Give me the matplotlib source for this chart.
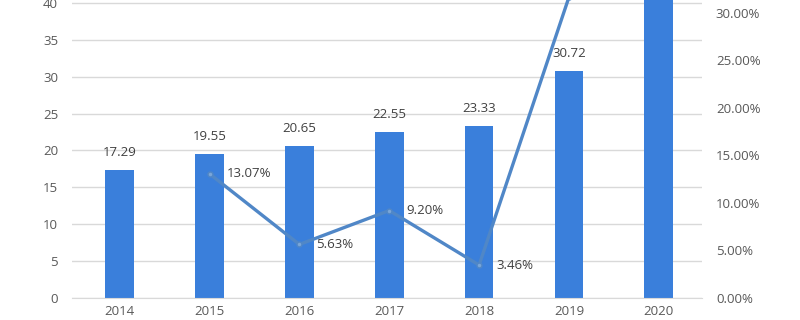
import matplotlib
matplotlib.use('Agg')
import matplotlib.pyplot as plt
from matplotlib.ticker import FuncFormatter, MultipleLocator

plt.rcParams['font.family'] = ['Open Sans', 'DejaVu Sans']

years  = ["2014", "2015", "2016", "2017", "2018", "2019", "2020"]
values = [17.29, 19.55, 20.65, 22.55, 23.33, 30.72, 41.50]
growth_years = ["2015", "2016", "2017", "2018", "2019", "2020"]
growth = [13.07, 5.63, 9.20, 3.46, 31.68, 35.09]   # percent

BAR_C  = "#3a7fdb"
LINE_C = "#5087c7"
TEXT_C = "#595959"
GRID_C = "#d9d9d9"

Y_MAX, Y2_MAX = 40.4, 31.37   # the picture is cropped at the top

fig = plt.figure(figsize=(8, 3.2), dpi=100)
ax = fig.add_axes([0.09, 0.069, 0.7875, 0.931])
ax2 = ax.twinx()

x = list(range(len(years)))
ax.bar(x, values, width=0.32, color=BAR_C, zorder=2)
for xi, v in zip(x, values):
    if v + 4 < Y_MAX:
        ax.text(xi, v + 1.5, f"{v:.2f}", ha="center", va="bottom",
                fontsize=9.5, color="#404040")

gx = [years.index(y) for y in growth_years]
ax2.plot(gx, growth, color=LINE_C, lw=2.4, marker="o", ms=3.5,
         mfc="#7aa6d8", mec=LINE_C, zorder=3)
for xi, g in zip(gx, growth):
    if g + 1.5 < Y2_MAX:
        ax2.text(xi + 0.19, g, f"{g:.2f}%", ha="left", va="center",
                 fontsize=9.5, color="#404040")

# ── axes / ticks ──────────────────────────────────────
ax.set_xlim(-0.53, 6.48)
ax.set_ylim(0, Y_MAX)
ax2.set_ylim(0, Y2_MAX)
ax.yaxis.set_major_locator(MultipleLocator(5))
ax2.yaxis.set_major_locator(MultipleLocator(5))
ax2.yaxis.set_major_formatter(FuncFormatter(lambda v, p: f"{v:.2f}%"))

ax.set_xticks(x)
ax.set_xticklabels(years)
ax.grid(axis="y", color=GRID_C, lw=1, zorder=0)
ax.set_axisbelow(True)

for a in (ax, ax2):
    for s in a.spines.values():
        s.set_visible(False)
    a.tick_params(length=0, colors=TEXT_C, labelsize=9.5)
ax.tick_params(axis="y", pad=10)
ax.tick_params(axis="x", pad=5)
ax2.tick_params(axis="y", pad=10)
ax.spines["bottom"].set_visible(True)
ax.spines["bottom"].set_color(GRID_C)

fig.savefig("out.png", dpi=100)
